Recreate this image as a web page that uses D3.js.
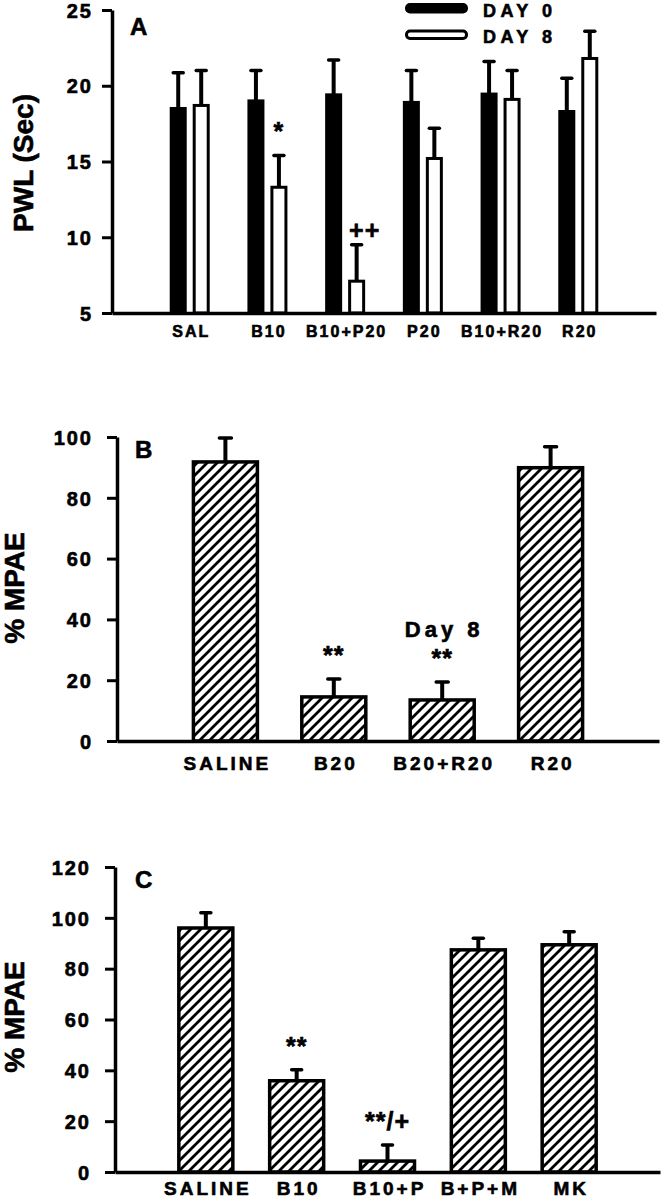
<!DOCTYPE html>
<html>
<head>
<meta charset="utf-8">
<script src="https://cdn.jsdelivr.net/npm/d3@7"></script>
<style>
  body { margin: 0; background: #fff; }
  svg { display: block; font-family: "Liberation Sans", Arial, sans-serif; font-weight: bold; }
  svg text { stroke: #000; stroke-width: 0.6px; }
</style>
</head>
<body>
<script>
// Panel A: PWL (sec) on day 0 and day 8
const groupsA = ["SAL", "B10", "B10+P20", "P20", "B10+R20", "R20"];
const day0Mean = [18.5, 19.0, 19.4, 18.9, 19.45, 18.3];
const day0Sem = [2.35, 2.0, 2.3, 2.1, 2.15, 2.2];
const day8Mean = [18.7, 13.3, 7.1, 15.2, 19.1, 21.8];
const day8Sem = [2.3, 2.1, 2.4, 2.0, 1.9, 1.8];
const marksA = ["", "*", "++", "", "", ""];
const ticksA = [5, 10, 15, 20, 25];
const seriesA = ["DAY 0", "DAY 8"];

// Panel B: % MPAE
const groupsB = ["SALINE", "B20", "B20+R20", "R20"];
const meanB = [91.8, 14.5, 13.5, 89.9];
const semB = [7.9, 5.9, 5.9, 6.9];
const marksB = ["", "**", "**", ""];
const notesB = ["", "", "Day 8", ""];
const ticksB = [0, 20, 40, 60, 80, 100];

// Panel C: % MPAE
const groupsC = ["SALINE", "B10", "B10+P", "B+P+M", "MK"];
const meanC = [96, 35.9, 4.3, 87.4, 89.4];
const semC = [6, 4.3, 6.3, 4.6, 5.1];
const marksC = ["", "**", "**/+", "", ""];
const ticksC = [0, 20, 40, 60, 80, 100, 120];

const svg = d3.select("body").append("svg")
  .attr("width", 664)
  .attr("height", 1200);

// diagonal hatch for panels B and C
svg.append("defs").append("pattern")
  .attr("id", "hatch")
  .attr("patternUnits", "userSpaceOnUse")
  .attr("width", 10)
  .attr("height", 10)
  .append("path")
  .attr("d", "M-1,1 l2,-2 M0,10 l10,-10 M9,11 l2,-2")
  .attr("stroke", "#000")
  .attr("stroke-width", 2.8);

function drawAxes(x, y, ticks, opt) {
  const y0 = y.range()[0];
  const x0 = x.range()[0];

  const ya = svg.append("g")
    .attr("transform", `translate(${x0},0)`)
    .call(d3.axisLeft(y).tickValues(ticks).tickSize(10).tickSizeOuter(0).tickPadding(opt.tickPad));
  ya.attr("font-family", null).attr("font-size", null);
  ya.select(".domain").attr("stroke-width", 3.5);
  ya.selectAll(".tick line").attr("stroke-width", 3);
  ya.selectAll(".tick text")
    .style("font-size", "20px")
    .style("letter-spacing", "2px")
    .attr("dy", "0.36em");

  const xa = svg.append("g")
    .attr("transform", `translate(0,${y0})`)
    .call(d3.axisBottom(x).tickSize(0).tickSizeOuter(0));
  xa.attr("font-family", null).attr("font-size", null);
  xa.select(".domain").attr("stroke-width", 3.5);
  xa.selectAll(".tick text")
    .attr("y", opt.labelY)
    .attr("dy", 0)
    .style("font-size", opt.labelSize + "px")
    .style("letter-spacing", opt.labelSpacing + "px")
    .attr("dx", opt.labelSpacing / 2);

  // axis title
  svg.append("text")
    .attr("transform", "rotate(-90)")
    .attr("x", -opt.titleY)
    .attr("y", opt.titleX)
    .attr("text-anchor", "middle")
    .style("font-size", "28px")
    .text(opt.title);

  // panel letter
  svg.append("text")
    .attr("x", opt.letter[0])
    .attr("y", opt.letter[1])
    .style("font-size", "24px")
    .text(opt.letter[2]);
}

function errorBar(cx, yTop, yBase, capHalf) {
  svg.append("line")
    .attr("x1", cx).attr("x2", cx)
    .attr("y1", yBase).attr("y2", yTop)
    .attr("stroke", "#000")
    .attr("stroke-width", 4);
  svg.append("line")
    .attr("x1", cx - capHalf).attr("x2", cx + capHalf)
    .attr("y1", yTop).attr("y2", yTop)
    .attr("stroke", "#000")
    .attr("stroke-width", 3.5)
    .attr("stroke-linecap", "round");
}

function mark(cx, yTop, txt) {
  if (!txt) return;
  const gap = txt.startsWith("*") ? 15 : 6;
  svg.append("text")
    .attr("x", cx)
    .attr("y", yTop - gap)
    .attr("text-anchor", "middle")
    .style("font-size", "25px")
    .style("letter-spacing", "1px")
    .text(txt);
}

// ---------- Panel A ----------
(function () {
  const x = d3.scalePoint().domain(groupsA).range([112, 656]).padding(1);
  const y = d3.scaleLinear().domain([5, 25]).range([313, 10]);
  const sub = d3.scaleBand().domain(seriesA).range([-20, 20]).paddingInner(0.26);
  const bw = sub.bandwidth();

  const rows = groupsA.map((g, i) => ({
    g,
    vals: [
      { s: "DAY 0", m: day0Mean[i], e: day0Sem[i] },
      { s: "DAY 8", m: day8Mean[i], e: day8Sem[i], mark: marksA[i] }
    ]
  }));

  rows.forEach(r => {
    r.vals.forEach(v => {
      const bx = x(r.g) + sub(v.s);
      svg.append("rect")
        .attr("x", bx + 1.5)
        .attr("y", y(v.m))
        .attr("width", bw - 3)
        .attr("height", y(5) - y(v.m))
        .attr("fill", v.s === "DAY 0" ? "#000" : "#fff")
        .attr("stroke", "#000")
        .attr("stroke-width", 3);
      errorBar(bx + bw / 2, y(v.m + v.e), y(v.m), 5);
      if (v.mark) mark(bx + bw / 2 + (v.mark === "++" ? 8 : 0), y(v.m + v.e), v.mark);
    });
  });

  drawAxes(x, y, ticksA, {
    tickPad: 9, labelY: 24, labelSize: 16, labelSpacing: 2,
    title: "PWL (Sec)", titleX: 33, titleY: 163, letter: [130, 35, "A"]
  });

  // legend
  const lg = svg.append("g");
  seriesA.forEach((s, i) => {
    lg.append("rect")
      .attr("x", 406.5)
      .attr("y", 4.5 + i * 26.5)
      .attr("width", 60)
      .attr("height", 7.5)
      .attr("rx", 3.5)
      .attr("fill", i === 0 ? "#000" : "#fff")
      .attr("stroke", "#000")
      .attr("stroke-width", 3);
    lg.append("text")
      .attr("x", 483)
      .attr("y", 17 + i * 26)
      .style("font-size", "18px")
      .style("letter-spacing", "4.5px")
      .text(s);
  });
})();

// ---------- hatched panels ----------
function hatchPanel(groups, means, sems, marks, ticks, cfg) {
  const x = d3.scalePoint().domain(groups).range(cfg.xr).padding(1);
  const y = d3.scaleLinear().domain(cfg.yd).range(cfg.yr);
  groups.forEach((g, i) => {
    const cx = x(g);
    svg.append("rect")
      .attr("x", cx - cfg.bw / 2)
      .attr("y", y(means[i]))
      .attr("width", cfg.bw)
      .attr("height", y(0) - y(means[i]))
      .attr("fill", "url(#hatch)")
      .attr("stroke", "#000")
      .attr("stroke-width", 3.5);
    errorBar(cx, y(means[i] + sems[i]), y(means[i]), cfg.cap);
    mark(cx, y(means[i] + sems[i]), marks[i]);
    if (cfg.notes && cfg.notes[i]) {
      svg.append("text")
        .attr("x", cx + 2)
        .attr("y", y(means[i] + sems[i]) - 45)
        .attr("text-anchor", "middle")
        .style("font-size", "22px")
        .style("letter-spacing", "4px")
        .text(cfg.notes[i]);
    }
  });
  drawAxes(x, y, ticks, cfg.axis);
}

hatchPanel(groupsB, meanB, semB, marksB, ticksB, {
  xr: [117, 659], yd: [0, 100], yr: [741, 437], bw: 64, cap: 6, notes: notesB,
  axis: {
    tickPad: 14, labelY: 29, labelSize: 19, labelSpacing: 3,
    title: "% MPAE", titleX: 24, titleY: 588, letter: [135, 458, "B"]
  }
});

hatchPanel(groupsC, meanC, semC, marksC, ticksC, {
  xr: [115, 660], yd: [0, 120], yr: [1172, 867], bw: 54, cap: 5,
  axis: {
    tickPad: 14, labelY: 23, labelSize: 19, labelSpacing: 3,
    title: "% MPAE", titleX: 24, titleY: 1017, letter: [135, 888, "C"]
  }
});
</script>
</body>
</html>
